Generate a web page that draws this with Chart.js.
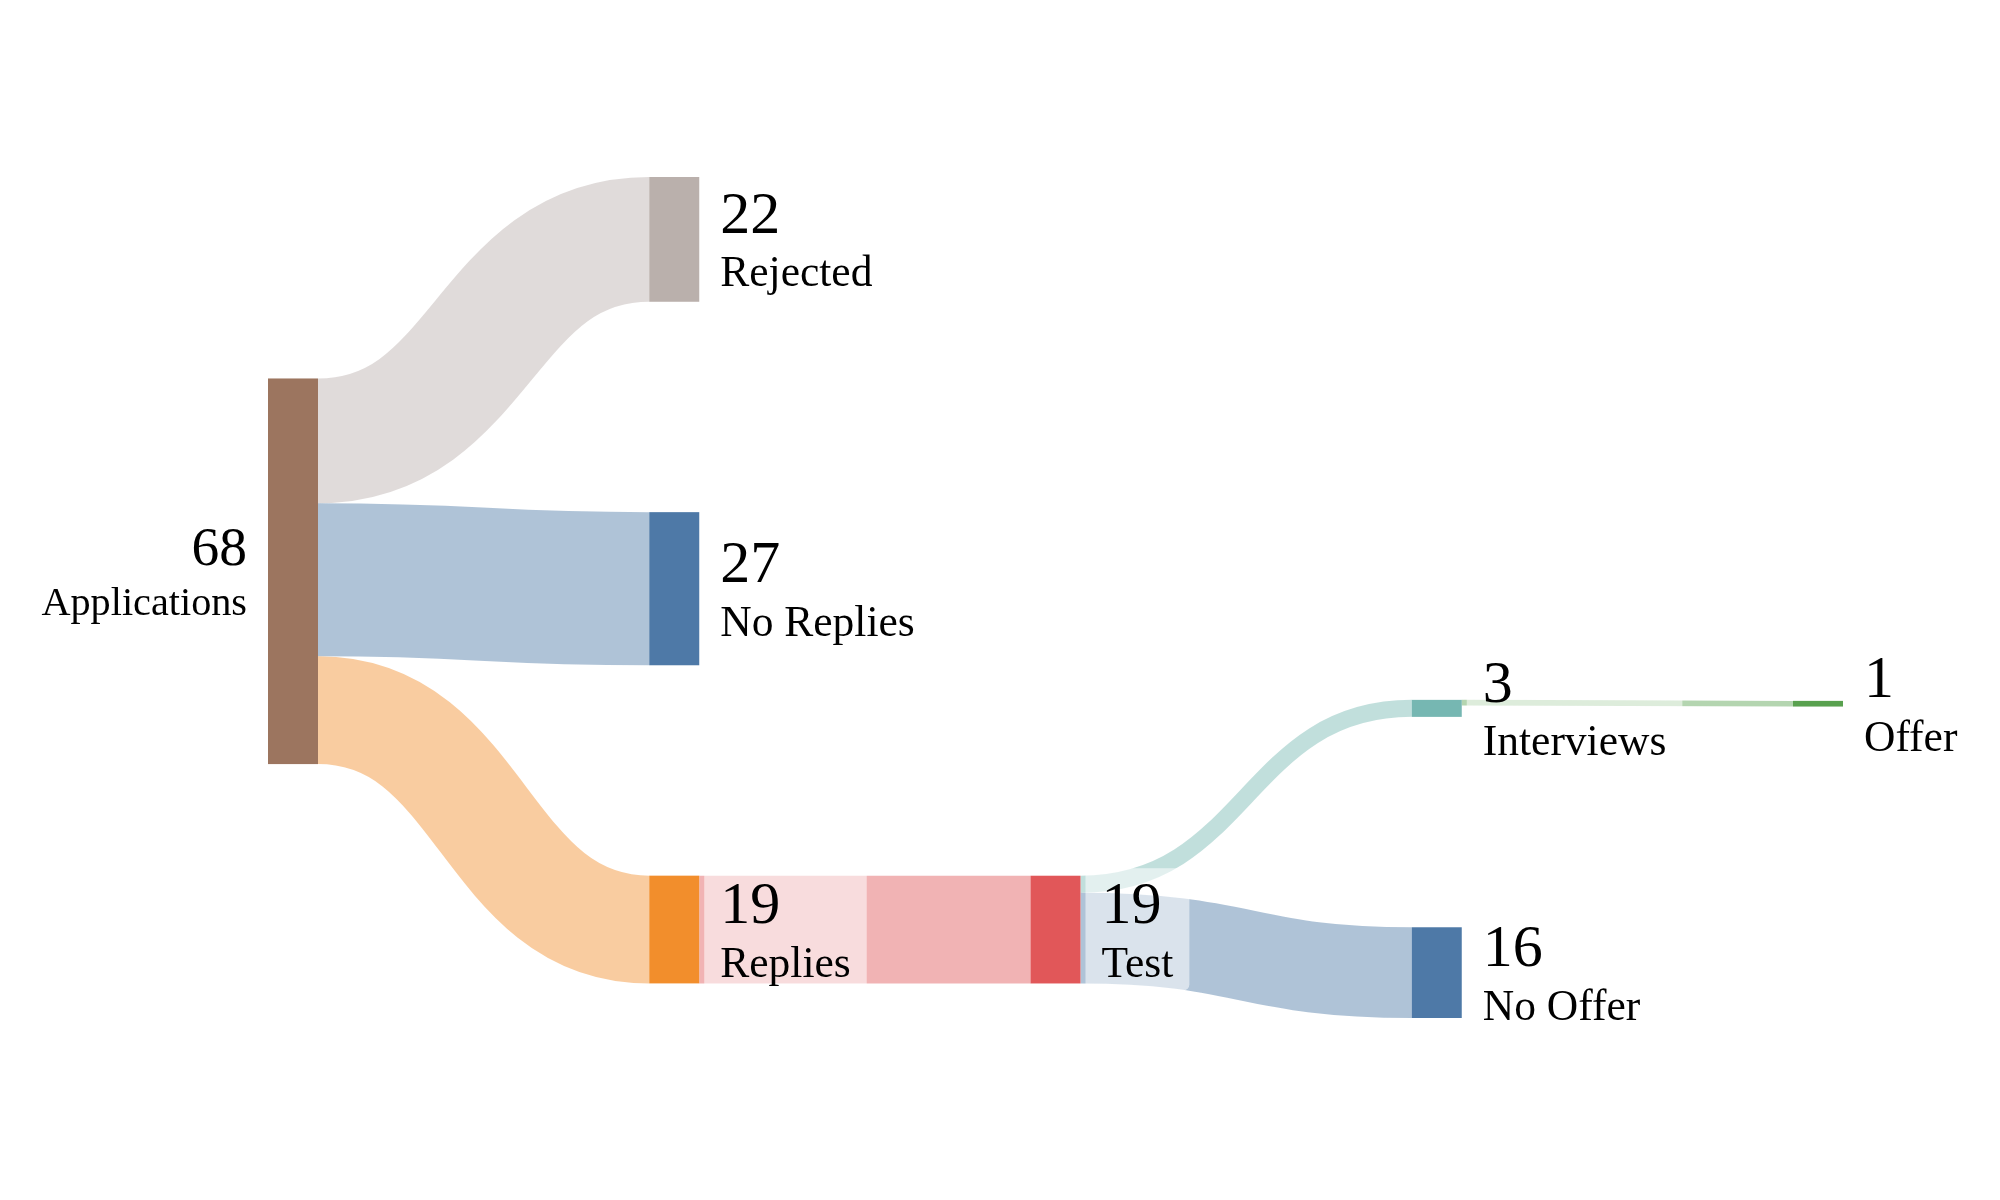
<!DOCTYPE html>
<html>
<head>
<meta charset="utf-8">
<title>Job search sankey</title>
<script src="https://cdn.jsdelivr.net/npm/chart.js@4.4.0/dist/chart.umd.min.js"></script>
<style>
  body { margin: 0; background: #fff; }
</style>
</head>
<body>
<canvas id="myChart" width="2000" height="1200"></canvas>
<script>
// data
const nodeNames = ['Applications', 'Rejected', 'No Replies', 'Replies', 'Test', 'Interviews', 'No Offer', 'Offer'];
const flowFrom = ['Applications', 'Applications', 'Applications', 'Replies', 'Test', 'Test', 'Interviews'];
const flowTo = ['Rejected', 'No Replies', 'Replies', 'Test', 'Interviews', 'No Offer', 'Offer'];
const flowValues = [22, 27, 19, 19, 3, 16, 1];

// styles
const nodeColors = ['#9c755f', '#bab0ac', '#4e79a7', '#f28e2c', '#e15759', '#76b7b2', '#4e79a7', '#59a14f'];
const NODE_WIDTH = 50;
const NODE_PAD = 37.1;    // gap between nodes, in value units
const Y_EXTENT = 148.3;   // height of the layout, in value units
const ITERATIONS = 6;
const NUM_SIZE = 60;
const NAME_SIZE = 43.5;
const LEFT_LABEL_SCALE = 0.925;
const FONT = '"Liberation Serif", "Times New Roman", serif';

// sankey layout (same steps as d3-sankey, left aligned)
function sankeyLayout() {
  const nodes = nodeNames.map((name, index) => ({ name, index, sourceLinks: [], targetLinks: [] }));
  const links = flowValues.map((value, index) => {
    const source = nodes[nodeNames.indexOf(flowFrom[index])];
    const target = nodes[nodeNames.indexOf(flowTo[index])];
    const link = { source, target, value, index, width: value };
    source.sourceLinks.push(link);
    target.targetLinks.push(link);
    return link;
  });
  const total = arr => arr.reduce((s, l) => s + l.value, 0);
  nodes.forEach(n => { n.value = Math.max(total(n.sourceLinks), total(n.targetLinks)); });

  let current = new Set(nodes), depth = 0;
  while (current.size) {
    const next = new Set();
    for (const n of current) {
      n.layer = depth;
      for (const l of n.sourceLinks) next.add(l.target);
    }
    current = next;
    depth++;
  }
  const columns = [];
  nodes.forEach(n => { (columns[n.layer] = columns[n.layer] || []).push(n); });

  const y0 = 0, y1 = Y_EXTENT, py = NODE_PAD;
  const byBreadth = (a, b) => a.y0 - b.y0;
  const bySource = (a, b) => byBreadth(a.source, b.source) || a.index - b.index;
  const byTarget = (a, b) => byBreadth(a.target, b.target) || a.index - b.index;

  function reorderNodeLinks(node) {
    for (const l of node.targetLinks) l.source.sourceLinks.sort(byTarget);
    for (const l of node.sourceLinks) l.target.targetLinks.sort(bySource);
  }
  function targetTop(source, target) {
    let y = source.y0 - (source.sourceLinks.length - 1) * py / 2;
    for (const l of source.sourceLinks) { if (l.target === target) break; y += l.width + py; }
    for (const l of target.targetLinks) { if (l.source === source) break; y -= l.width; }
    return y;
  }
  function sourceTop(source, target) {
    let y = target.y0 - (target.targetLinks.length - 1) * py / 2;
    for (const l of target.targetLinks) { if (l.source === source) break; y += l.width + py; }
    for (const l of source.sourceLinks) { if (l.target === target) break; y -= l.width; }
    return y;
  }
  function pushDown(col, y, i, alpha) {
    for (; i < col.length; ++i) {
      const n = col[i];
      const dy = (y - n.y0) * alpha;
      if (dy > 1e-6) { n.y0 += dy; n.y1 += dy; }
      y = n.y1 + py;
    }
  }
  function pushUp(col, y, i, alpha) {
    for (; i >= 0; --i) {
      const n = col[i];
      const dy = (n.y1 - y) * alpha;
      if (dy > 1e-6) { n.y0 -= dy; n.y1 -= dy; }
      y = n.y0 - py;
    }
  }
  function resolveCollisions(col, alpha) {
    const i = col.length >> 1;
    const subject = col[i];
    pushUp(col, subject.y0 - py, i - 1, alpha);
    pushDown(col, subject.y1 + py, i + 1, alpha);
    pushUp(col, y1, col.length - 1, alpha);
    pushDown(col, y0, 0, alpha);
  }

  for (const col of columns) {
    let y = y0;
    for (const n of col) { n.y0 = y; n.y1 = y + n.value; y = n.y1 + py; }
    y = (y1 - y + py) / (col.length + 1);
    col.forEach((n, i) => { n.y0 += y * (i + 1); n.y1 += y * (i + 1); });
    for (const n of col) { n.sourceLinks.sort(byTarget); n.targetLinks.sort(bySource); }
  }

  for (let it = 0; it < ITERATIONS; ++it) {
    const alpha = Math.pow(0.99, it);
    const beta = Math.max(1 - alpha, (it + 1) / ITERATIONS);
    for (let c = columns.length - 2; c >= 0; --c) {
      for (const source of columns[c]) {
        let y = 0, w = 0;
        for (const l of source.sourceLinks) {
          const v = l.value * (l.target.layer - source.layer);
          y += sourceTop(source, l.target) * v;
          w += v;
        }
        if (!(w > 0)) continue;
        const dy = (y / w - source.y0) * alpha;
        source.y0 += dy; source.y1 += dy;
        reorderNodeLinks(source);
      }
      columns[c].sort(byBreadth);
      resolveCollisions(columns[c], beta);
    }
    for (let c = 1; c < columns.length; ++c) {
      for (const target of columns[c]) {
        let y = 0, w = 0;
        for (const l of target.targetLinks) {
          const v = l.value * (target.layer - l.source.layer);
          y += targetTop(l.source, target) * v;
          w += v;
        }
        if (!(w > 0)) continue;
        const dy = (y / w - target.y0) * alpha;
        target.y0 += dy; target.y1 += dy;
        reorderNodeLinks(target);
      }
      columns[c].sort(byBreadth);
      resolveCollisions(columns[c], beta);
    }
  }

  for (const n of nodes) {
    let ys = n.y0, yt = n.y0;
    for (const l of n.sourceLinks) { l.y0 = ys + l.width / 2; ys += l.width; }
    for (const l of n.targetLinks) { l.y1 = yt + l.width / 2; yt += l.width; }
  }
  return { nodes, links, columns };
}

const graph = sankeyLayout();

function hexToRgba(hex, a) {
  const v = parseInt(hex.slice(1), 16);
  return `rgba(${v >> 16}, ${(v >> 8) & 255}, ${v & 255}, ${a})`;
}

const sankeyPlugin = {
  id: 'sankey',
  afterDatasetsDraw(chart) {
    const { ctx } = chart;
    const xs = chart.scales.x, ys = chart.scales.y;
    const nodeX0 = n => xs.getPixelForValue(n.layer);
    const nodeX1 = n => nodeX0(n) + NODE_WIDTH;
    const lastLayer = graph.columns.length - 1;

    ctx.save();
    // flows
    graph.links.forEach(l => {
      const sx = nodeX1(l.source), tx = nodeX0(l.target);
      const sy = ys.getPixelForValue(l.y0), ty = ys.getPixelForValue(l.y1);
      const xm = (sx + tx) / 2;
      ctx.beginPath();
      ctx.moveTo(sx, sy);
      ctx.bezierCurveTo(xm, sy, xm, ty, tx, ty);
      ctx.lineWidth = ys.getPixelForValue(l.width) - ys.getPixelForValue(0);
      ctx.strokeStyle = hexToRgba(nodeColors[l.target.index], 0.45);
      ctx.stroke();
    });

    // nodes
    graph.nodes.forEach(n => {
      const top = ys.getPixelForValue(n.y0), bottom = ys.getPixelForValue(n.y1);
      ctx.fillStyle = nodeColors[n.index];
      ctx.fillRect(nodeX0(n), top, NODE_WIDTH, bottom - top);
    });

    // labels
    graph.nodes.forEach(n => {
      const onLeft = n.layer === 0 && lastLayer > 0;
      const k = onLeft ? LEFT_LABEL_SCALE : 1;
      const numSize = NUM_SIZE * k, nameSize = NAME_SIZE * k;
      const cy = (ys.getPixelForValue(n.y0) + ys.getPixelForValue(n.y1)) / 2;
      const numText = String(n.value);
      const numBase = cy - 6.5 * k;
      const nameBase = cy + 47 * k;
      ctx.font = `${numSize}px ${FONT}`;
      const wNum = ctx.measureText(numText).width;
      ctx.font = `${nameSize}px ${FONT}`;
      const wName = ctx.measureText(n.name).width;
      const w = Math.max(wNum, wName);
      const tx = onLeft ? nodeX0(n) - 21 : nodeX1(n) + 21;
      const boxX = onLeft ? tx - w - 16 : tx - 16;
      const boxTop = numBase - numSize * 0.68 - 14;
      const boxBottom = nameBase + 14;

      ctx.fillStyle = 'rgba(255, 255, 255, 0.55)';
      ctx.beginPath();
      ctx.roundRect(boxX, boxTop, w + 32, boxBottom - boxTop, 6);
      ctx.fill();

      ctx.fillStyle = '#000';
      ctx.textAlign = onLeft ? 'right' : 'left';
      ctx.textBaseline = 'alphabetic';
      ctx.font = `${numSize}px ${FONT}`;
      ctx.fillText(numText, tx, numBase);
      ctx.font = `${nameSize}px ${FONT}`;
      ctx.fillText(n.name, tx, nameBase);
    });
    ctx.restore();
  }
};

const ctx = document.getElementById('myChart');

new Chart(ctx, {
  type: 'scatter',
  data: {
    datasets: [{
      label: 'nodes',
      data: graph.nodes.map(n => ({ x: n.layer, y: (n.y0 + n.y1) / 2 })),
      pointRadius: 0
    }]
  },
  options: {
    responsive: false,
    animation: false,
    devicePixelRatio: 1,
    layout: { padding: { left: 268, right: 207, top: 177, bottom: 182 } },
    plugins: {
      legend: { display: false },
      tooltip: { enabled: false }
    },
    scales: {
      x: { type: 'linear', min: 0, max: graph.columns.length - 1, display: false },
      y: { type: 'linear', min: 0, max: Y_EXTENT, reverse: true, display: false }
    }
  },
  plugins: [sankeyPlugin]
});
</script>
</body>
</html>
